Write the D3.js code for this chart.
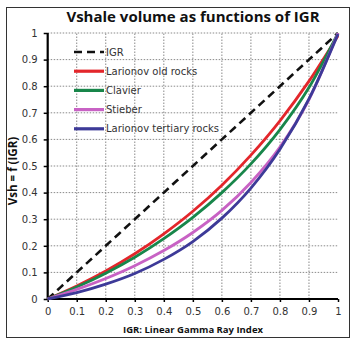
<!DOCTYPE html>
<html>
<head>
<meta charset="utf-8">
<script src="https://cdn.jsdelivr.net/npm/d3@7"></script>
<style>
  body { margin: 0; background: #fff; }
  svg text { font-family: "DejaVu Sans", sans-serif; }
</style>
</head>
<body>
<div id="chart"></div>
<script>
// Data
const igr = [0, 0.1, 0.2, 0.3, 0.4, 0.5, 0.6, 0.7, 0.8, 0.9, 1];
const larionovOld = [0, 0.049, 0.105, 0.170, 0.245, 0.330, 0.428, 0.541, 0.670, 0.819, 0.99];
const clavier = [0, 0.045, 0.097, 0.157, 0.227, 0.307, 0.400, 0.508, 0.637, 0.795, 1];
const stieber = [0, 0.036, 0.077, 0.125, 0.182, 0.250, 0.333, 0.438, 0.571, 0.750, 1];
const larionovTertiary = [0, 0.024, 0.056, 0.096, 0.149, 0.216, 0.304, 0.417, 0.563, 0.752, 0.996];
const ticks = [0, 0.1, 0.2, 0.3, 0.4, 0.5, 0.6, 0.7, 0.8, 0.9, 1];

const series = [
  { name: 'IGR', values: igr, color: '#111', dash: '8,5' },
  { name: 'Larionov old rocks', values: larionovOld, color: '#e3262b' },
  { name: 'Clavier', values: clavier, color: '#18864a' },
  { name: 'Stieber', values: stieber, color: '#c862c4' },
  { name: 'Larionov tertiary rocks', values: larionovTertiary, color: '#3d3a98' },
];

const W = 356, H = 341;
const x0 = 47.7, x1 = 338, y0 = 299, y1 = 33;

const svg = d3.select('#chart').append('svg')
  .attr('width', W).attr('height', H);

// outer frame
svg.append('rect')
  .attr('x', 6.5).attr('y', 7.5).attr('width', 343).attr('height', 330)
  .attr('fill', 'none').attr('stroke', '#333').attr('stroke-width', 1);

const x = d3.scaleLinear([0, 1], [x0, x1]);
const y = d3.scaleLinear([0, 1], [y0, y1]);

// grid
const grid = svg.append('g')
  .attr('stroke', '#8a8a8a').attr('stroke-width', 1).attr('stroke-dasharray', '1.5,1.5');
grid.selectAll('.gx').data(ticks.slice(1, 10)).join('line')
  .attr('x1', (d) => x(d)).attr('x2', (d) => x(d))
  .attr('y1', y(0)).attr('y2', y(1));
grid.selectAll('.gy').data(ticks.slice(1)).join('line')
  .attr('x1', x(0)).attr('x2', x(1))
  .attr('y1', (d) => y(d)).attr('y2', (d) => y(d));

// axes
const xAxis = d3.axisBottom(x).tickValues(ticks).tickFormat(d3.format('')).tickSize(3).tickPadding(6);
const yAxis = d3.axisLeft(y).tickValues(ticks).tickFormat(d3.format('')).tickSize(4).tickPadding(6);

const gx = svg.append('g').attr('transform', `translate(0,${y0})`).call(xAxis);
const gy = svg.append('g').attr('transform', `translate(${x0},0)`).call(yAxis);
[gx, gy].forEach((g) => {
  g.select('.domain').attr('stroke', '#000').attr('stroke-width', 2.2);
  g.selectAll('.tick line').attr('stroke', '#000').attr('stroke-width', 1.5);
  g.selectAll('.tick text').attr('fill', '#333').style('font-size', '10px');
});
gx.select('.domain').attr('d', `M${x0},0H${x1}`);
gy.select('.domain').attr('d', `M0,${y0}V${y1}`);

// curves
const line = d3.line()
  .x((d, i) => x(igr[i]))
  .y((d) => y(d))
  .curve(d3.curveMonotoneX);

svg.append('g').selectAll('path')
  .data(series)
  .join('path')
  .attr('d', (d) => line(d.values))
  .attr('fill', 'none')
  .attr('stroke', (d) => d.color)
  .attr('stroke-width', (d) => (d.dash ? 2.6 : 2.8))
  .attr('stroke-dasharray', (d) => d.dash || null);

// legend
const legend = svg.append('g').attr('transform', 'translate(74,52)');
const row = legend.selectAll('g').data(series).join('g')
  .attr('transform', (d, i) => `translate(0,${i * 19.2})`);
row.append('line')
  .attr('x1', 0).attr('x2', 30)
  .attr('stroke', (d) => d.color)
  .attr('stroke-width', (d) => (d.dash ? 2.6 : 3.2))
  .attr('stroke-dasharray', (d) => d.dash || null);
row.append('text')
  .attr('x', 32).attr('dy', '0.35em')
  .attr('fill', '#333').style('font-size', '10px')
  .text((d) => d.name);

// title
svg.append('text')
  .attr('x', 193).attr('y', 22)
  .attr('text-anchor', 'middle')
  .style('font-family', '"Open Sans", sans-serif')
  .style('font-weight', 'bold').style('font-size', '15px')
  .attr('fill', '#111')
  .text('Vshale volume as functions of IGR');

// x-axis name
svg.append('text')
  .attr('x', 193).attr('y', 333)
  .attr('text-anchor', 'middle')
  .style('font-family', '"Open Sans", sans-serif')
  .style('font-weight', 'bold').style('font-size', '9.5px')
  .attr('fill', '#111')
  .text('IGR: Linear Gamma Ray Index');

// y-axis name
svg.append('text')
  .attr('transform', 'translate(17,171)rotate(-90)')
  .attr('text-anchor', 'middle')
  .style('font-family', '"Open Sans", sans-serif')
  .style('font-weight', 'bold').style('font-size', '11.5px')
  .attr('fill', '#111')
  .text('Vsh = f (IGR)');
</script>
</body>
</html>
